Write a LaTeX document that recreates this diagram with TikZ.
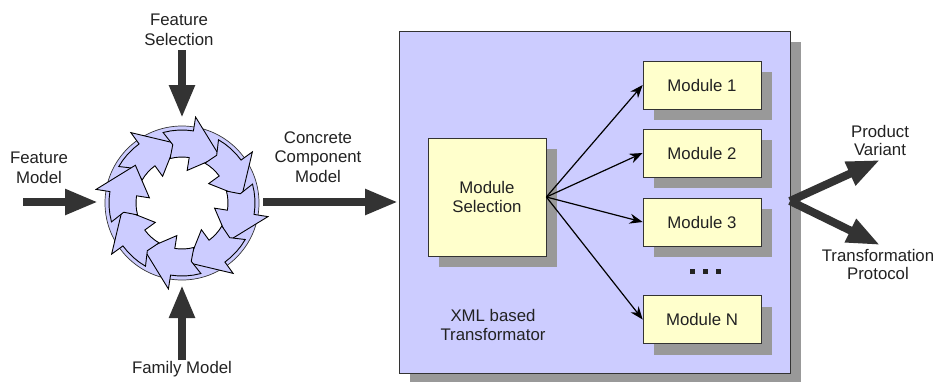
\documentclass[tikz,border=0pt]{standalone}
\usepackage{fontspec}
\setmainfont{Liberation Sans}
\usetikzlibrary{arrows.meta,shadows}
\definecolor{lav}{HTML}{CCCCFF}
\definecolor{pale}{HTML}{FFFFCC}
\definecolor{shd}{HTML}{999999}
\definecolor{dk}{HTML}{333333}
\definecolor{txtc}{HTML}{222222}
\begin{document}
\begin{tikzpicture}[x=1pt,y=-1pt,
  txt/.style={font=\fontsize{16.8}{19.5}\selectfont, align=center, inner sep=0pt, text=txtc},
  fat/.style={draw=dk, line width=8pt, -{Triangle[length=33pt,width=24pt]}},
  conn/.style={draw=black, line width=1.2pt, -{Stealth[length=13pt,width=10pt]}},
  shbox/.style={draw=dk, line width=0.7pt, drop shadow={shadow xshift=11pt, shadow yshift=-11pt, fill=shd, opacity=1}},
  modbox/.style={shbox, fill=pale, minimum width=118pt, minimum height=48pt, inner sep=0pt, align=center, font=\fontsize{16.8}{19.5}\selectfont, text=txtc}
]
\useasboundingbox (0,0) rectangle (942,381);
\fill[white] (0,0) rectangle (942,381);

% transformator box
\node[shbox, fill=lav, minimum width=391pt, minimum height=342pt, inner sep=0pt] (xf) at (594.5,202) {};

% module selection
\node[modbox, minimum width=118pt, minimum height=118pt] (ms) at (487,197) {Module\\Selection};
\node[modbox] (m1) at (702,85) {Module 1};
\node[modbox] (m2) at (702,153) {Module 2};
\node[modbox] (m3) at (702,222) {Module 3};
\node[modbox] (mn) at (702,319.5) {Module N};
\foreach \t in {m1,m2,m3,mn} \draw[conn] (ms.east) -- (\t.west);
\foreach \dx in {692,705,718} \fill[txtc] (\dx-2.5,268.5) rectangle (\dx+2.5,273.5);
\node[txt] (xl) at (493,325) {XML based\\Transformator};

% ring of arrows
\node[circle, minimum size=160pt, inner sep=0pt] (cyc) at (182,203) {};
\begin{scope}[shift={(182,203)}]
  \fill[lav, even odd rule] (0,0) circle[radius=77] (0,0) circle[radius=48];
  \draw[dk, line width=0.7pt] (0,0) circle[radius=77];
  \foreach \a in {-150,-105,...,165} {
    \filldraw[fill=lav, draw=black, line width=0.9pt, line join=miter]
      plot[domain=\a:\a+24, samples=5] (\x:73) -- (\a+24:87) -- (\a+54:60)
      -- (\a+24:33) -- plot[domain=\a+24:\a, samples=5] (\x:46) -- (\a+6:59) -- cycle;
  }
\end{scope}

% labels
\node[txt] (fs) at (179,30) {Feature\\Selection};
\node[txt] (fm) at (39,168) {Feature\\Model};
\node[txt] (fam) at (182,369) {Family Model};
\node[txt] (ccm) at (318,157) {Concrete\\Component\\Model};
\node[txt, font=\fontsize{16.8}{17.5}\selectfont] (pv) at (880,140.5) {Product\\Variant};
\node[txt, font=\fontsize{16.8}{17.5}\selectfont] (tp) at (878,264.5) {Transformation\\Protocol};

% fat arrows
\coordinate (fsA) at (182,50);  \coordinate (fsB) at (182,118);
\coordinate (fmA) at (23,202);  \coordinate (fmB) at (98,202);
\coordinate (faA) at (182,360); \coordinate (faB) at (182,285);
\coordinate (ccA) at (263,202); \coordinate (ccB) at (398,202);
\coordinate (outA) at (790,201);
\coordinate (pvB) at (880,160); \coordinate (tpB) at (880,245);
\draw[fat] (fsA) -- (fsB);
\draw[fat] (fmA) -- (fmB);
\draw[fat] (faA) -- (faB);
\draw[fat] (ccA) -- (ccB);
\draw[fat] (outA) -- (pvB);
\draw[fat] (outA) -- (tpB);
\end{tikzpicture}
\end{document}
